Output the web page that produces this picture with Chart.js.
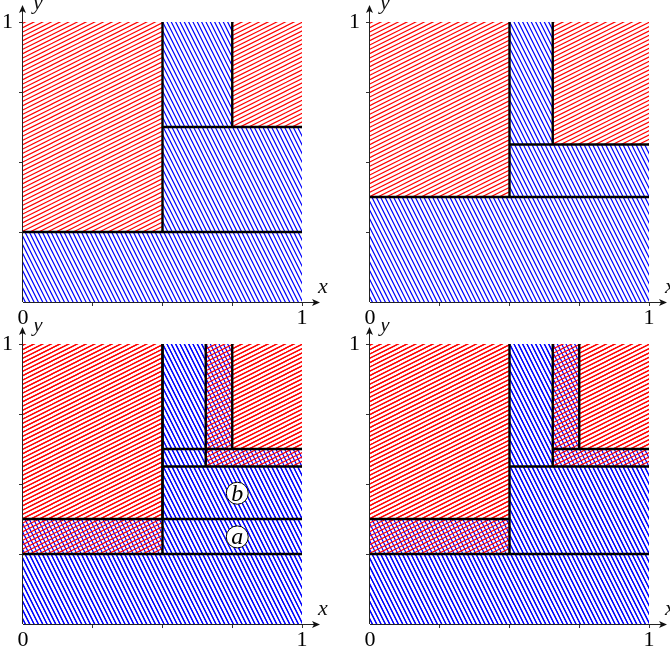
<!DOCTYPE html>
<html>
<head>
<meta charset="utf-8">
<script src="https://cdn.jsdelivr.net/npm/chart.js@4.4.1/dist/chart.umd.min.js"></script>
<style>
  html, body { margin: 0; padding: 0; background: #fff; overflow: hidden; width: 670px; height: 653px; }
  canvas { position: absolute; }
</style>
</head>
<body>
<canvas id="c1" width="340" height="331" style="left:0px;top:0px"></canvas>
<canvas id="c2" width="340" height="331" style="left:347px;top:0px"></canvas>
<canvas id="c3" width="340" height="331" style="left:0px;top:322px"></canvas>
<canvas id="c4" width="340" height="331" style="left:347px;top:322px"></canvas>
<script>
// ---------- data (rectangles as [x0, y0, x1, y1], segments as [x0, y0, x1, y1]) ----------
const tickValues = [0, 0.25, 0.5, 0.75, 1];
const xTickLabels = { 0: '0', 1: '1' };
const yTickLabels = { 1: '1' };

const redRectsA  = [[0, 0.25, 0.5, 1], [0.75, 0.625, 1, 1]];
const blueRectsA = [[0, 0, 1, 0.25], [0.5, 0.25, 1, 0.625], [0.5, 0.625, 0.75, 1]];
const linesA     = [[0, 0.25, 1, 0.25], [0.5, 0.25, 0.5, 1], [0.5, 0.625, 1, 0.625], [0.75, 0.625, 0.75, 1]];

const redRectsB  = [[0, 0.375, 0.5, 1], [0.655, 0.5625, 1, 1]];
const blueRectsB = [[0, 0, 1, 0.375], [0.5, 0.375, 1, 0.5625], [0.5, 0.5625, 0.655, 1]];
const linesB     = [[0, 0.375, 1, 0.375], [0.5, 0.375, 0.5, 1], [0.5, 0.5625, 1, 0.5625], [0.655, 0.5625, 0.655, 1]];

const linesD = [[0, 0.25, 1, 0.25], [0, 0.375, 0.5, 0.375], [0.5, 0.25, 0.5, 1], [0.5, 0.5625, 1, 0.5625],
                [0.655, 0.625, 1, 0.625], [0.655, 0.5625, 0.655, 1], [0.75, 0.625, 0.75, 1]];

const markLabels = ['b', 'a'];
const markX = [0.768, 0.768];
const markY = [0.467, 0.311];

const serif = '"Liberation Serif", "Times New Roman", serif';

// ---------- hatch patterns ----------
function hatch(color, dir) {
  const d = 13 / 3;
  const c = document.createElement('canvas');
  if (dir === 'ne') { c.width = 26; c.height = 13; } else { c.width = 13; c.height = 26; }
  const g = c.getContext('2d');
  g.strokeStyle = color; g.lineWidth = 1.2;
  g.beginPath();
  for (let k = -12; k <= 24; k++) {
    const cc = k * d;
    if (dir === 'ne') { g.moveTo(-30, cc + 15); g.lineTo(60, cc - 30); }
    else { g.moveTo(cc - 15, -30); g.lineTo(cc + 45, 90); }
  }
  g.stroke();
  return g.createPattern(c, 'repeat');
}

function rectDataset(r, pattern) {
  return {
    data: [{x: r[0], y: r[1]}, {x: r[2], y: r[1]}, {x: r[2], y: r[3]}, {x: r[0], y: r[3]}, {x: r[0], y: r[1]}],
    fill: 'shape', backgroundColor: pattern, borderColor: 'transparent', borderWidth: 0,
    pointRadius: 0, tension: 0, order: 10
  };
}
function segDataset(s) {
  return {
    data: [{x: s[0], y: s[1]}, {x: s[2], y: s[3]}],
    fill: false, borderColor: '#000', borderWidth: 2.4, pointRadius: 0, tension: 0, order: 1,
    borderCapStyle: 'butt'
  };
}

const axesPlugin = {
  id: 'axesArrows',
  afterDraw(chart) {
    const ctx = chart.ctx;
    const xs = chart.scales.x, ys = chart.scales.y;
    const ox = xs.getPixelForValue(0), oy = ys.getPixelForValue(0);
    const xTip = xs.getPixelForValue(1) + 18, yTip = ys.getPixelForValue(1) - 17;
    ctx.save();
    ctx.strokeStyle = '#222'; ctx.fillStyle = '#111'; ctx.lineWidth = 1;
    ctx.beginPath();
    ctx.moveTo(ox, oy + 0.5); ctx.lineTo(xTip - 5, oy + 0.5);
    ctx.moveTo(ox - 0.5, oy); ctx.lineTo(ox - 0.5, yTip + 5);
    ctx.stroke();
    ctx.beginPath();
    ctx.moveTo(xTip, oy + 0.5); ctx.lineTo(xTip - 8, oy - 3); ctx.lineTo(xTip - 6, oy + 0.5); ctx.lineTo(xTip - 8, oy + 4);
    ctx.closePath(); ctx.fill();
    ctx.beginPath();
    ctx.moveTo(ox - 0.5, yTip); ctx.lineTo(ox - 4, yTip + 8); ctx.lineTo(ox - 0.5, yTip + 6); ctx.lineTo(ox + 3, yTip + 8);
    ctx.closePath(); ctx.fill();
    ctx.fillStyle = '#111';
    ctx.font = 'italic 22px ' + serif;
    ctx.textAlign = 'center'; ctx.textBaseline = 'alphabetic';
    ctx.fillText('x', xTip + 3, oy - 9);
    ctx.fillText('y', ox + 15, yTip + 4);
    ctx.restore();
  }
};

const markPlugin = {
  id: 'markText',
  afterDatasetsDraw(chart) {
    const ctx = chart.ctx;
    chart.data.datasets.forEach((ds, i) => {
      if (!ds.markText) return;
      const meta = chart.getDatasetMeta(i);
      ctx.save();
      ctx.fillStyle = '#000';
      ctx.font = 'italic 24px ' + serif;
      ctx.textAlign = 'center'; ctx.textBaseline = 'middle';
      meta.data.forEach((pt, j) => ctx.fillText(ds.markText[j], pt.x, pt.y + 1));
      ctx.restore();
    });
  }
};

function makeChart(id, reds, blues, segs, withMarks) {
  const red = hatch('#ff0000', 'ne');
  const blue = hatch('#0000ff', 'se');
  const datasets = [];
  reds.forEach(r => datasets.push(rectDataset(r, red)));
  blues.forEach(r => datasets.push(rectDataset(r, blue)));
  segs.forEach(s => datasets.push(segDataset(s)));
  if (withMarks) {
    datasets.push({
      data: markX.map((x, i) => ({x: x, y: markY[i]})),
      markText: markLabels,
      showLine: false, pointRadius: 11, pointHoverRadius: 11, pointBackgroundColor: '#fff',
      pointBorderColor: '#000', pointBorderWidth: 1, order: 0
    });
  }
  const tickColor = c => (c.tick && c.tick.value === 0) ? 'rgba(0,0,0,0)' : '#333';
  new Chart(document.getElementById(id), {
    type: 'line',
    data: { datasets },
    options: {
      responsive: false, animation: false, devicePixelRatio: 1,
      layout: { padding: { left: 0, top: 22, right: 38, bottom: 0 } },
      plugins: { legend: { display: false }, tooltip: { enabled: false }, filler: { drawTime: 'beforeDatasetsDraw' } },
      events: [],
      scales: {
        x: {
          type: 'linear', min: 0, max: 1,
          afterBuildTicks: s => { s.ticks = tickValues.map(v => ({value: v})); },
          afterFit: s => { s.height = 29; },
          ticks: { autoSkip: false, maxRotation: 0, padding: -1, color: '#000',
                   font: { family: serif, size: 22 },
                   callback: v => (xTickLabels[v] !== undefined ? xTickLabels[v] : '') },
          grid: { drawOnChartArea: false, drawTicks: true, tickLength: 4, tickColor: tickColor, lineWidth: 1 },
          border: { display: false }
        },
        y: {
          type: 'linear', min: 0, max: 1,
          afterBuildTicks: s => { s.ticks = tickValues.map(v => ({value: v})); },
          afterFit: s => { s.width = 23; },
          ticks: { autoSkip: false, padding: 6, color: '#000',
                   font: { family: serif, size: 22 },
                   callback: v => (yTickLabels[v] !== undefined ? yTickLabels[v] : '') },
          grid: { drawOnChartArea: false, drawTicks: true, tickLength: 4, tickColor: tickColor, lineWidth: 1 },
          border: { display: false }
        }
      }
    },
    plugins: [axesPlugin, markPlugin]
  });
}

makeChart('c1', redRectsA, blueRectsA, linesA, false);
makeChart('c2', redRectsB, blueRectsB, linesB, false);
makeChart('c3', redRectsA.concat(redRectsB), blueRectsA.concat(blueRectsB), linesA.concat(linesB), true);
makeChart('c4', redRectsA.concat(redRectsB), blueRectsA.concat(blueRectsB), linesD, false);
</script>
</body>
</html>
